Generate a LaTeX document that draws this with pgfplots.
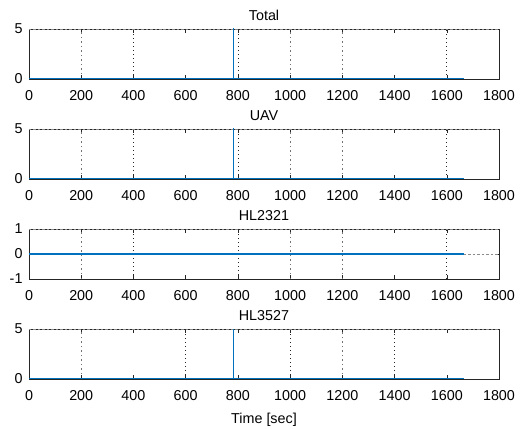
\documentclass[border=0pt]{standalone}
\usepackage{pgfplots}
\pgfplotsset{compat=1.18}
\usepackage{fontspec}
\setmainfont{Liberation Sans}
\definecolor{mblue}{RGB}{0,114,189}
\definecolor{maxis}{RGB}{38,38,38}
\pgfplotsset{
  mpanel/.style={
    scale only axis, width=470bp, height=50bp,
    anchor=south west,
    xmin=0, xmax=1800, xtick={0,200,...,1800},
    tick align=inside, major tick length=4bp,
    axis line style={maxis, line width=0.5pt},
    every tick/.style={maxis, line width=0.5pt},
    tick label style={font=\fontsize{14.4}{16}\selectfont, text=black},
    xticklabel style={yshift=-7.5bp},
    yticklabel style={xshift=-3bp},
    title style={font=\fontsize{14.4}{16}\selectfont, yshift=-1bp},
    /pgf/number format/assume math mode=true,
    /pgf/number format/1000 sep={},
    clip=true,
  },
  hvy/.style={black!85, line width=1pt, dash pattern=on 1.5pt off 2.5pt},
  lgt/.style={black!55, line width=0.6pt, dash pattern=on 1.5pt off 3.5pt on 0.6pt off 3.5pt},
  hl/.style={black!45, line width=0.5pt, dash pattern=on 2.5pt off 2pt},
  dat/.style={draw=mblue, color=mblue, line width=1.6bp},
  spk/.style={draw=mblue, color=mblue, line width=1.5bp},
}
\begin{document}
\begin{tikzpicture}
\path[use as bounding box] (0,0) rectangle (527bp,429bp);
% Panel 1
\begin{axis}[mpanel, at={(29bp,350bp)}, ymin=0, ymax=5, ytick={0,5}, title={Total}]
\addplot[hl] coordinates {(0,5) (1800,5)};
\addplot[hl] coordinates {(0,0) (1800,0)};
\addplot[lgt] coordinates {(200,0) (200,5)};
\addplot[hvy] coordinates {(400,0) (400,5)};
\addplot[hvy] coordinates {(802,0) (802,5)};
\addplot[lgt] coordinates {(1000,0) (1000,5)};
\addplot[lgt] coordinates {(1200,0) (1200,5)};
\addplot[hvy] coordinates {(1600,0) (1600,5)};
\addplot[dat] coordinates {(0,0.04) (1665,0.04)};
\addplot[spk] coordinates {(783,0) (783,6)};
\end{axis}
% Panel 2
\begin{axis}[mpanel, at={(29bp,250bp)}, ymin=0, ymax=5, ytick={0,5}, title={UAV}]
\addplot[hl] coordinates {(0,5) (1800,5)};
\addplot[hl] coordinates {(0,0) (1800,0)};
\addplot[lgt] coordinates {(200,0) (200,5)};
\addplot[hvy] coordinates {(400,0) (400,5)};
\addplot[hvy] coordinates {(802,0) (802,5)};
\addplot[lgt] coordinates {(1000,0) (1000,5)};
\addplot[lgt] coordinates {(1200,0) (1200,5)};
\addplot[hvy] coordinates {(1600,0) (1600,5)};
\addplot[dat] coordinates {(0,0.04) (1665,0.04)};
\addplot[spk] coordinates {(783,0) (783,6)};
\end{axis}
% Panel 3
\begin{axis}[mpanel, at={(29bp,150bp)}, ymin=-1, ymax=1, ytick={-1,0,1}, title={HL2321}]
\addplot[hl] coordinates {(0,1) (1800,1)};
\addplot[lgt] coordinates {(200,-1) (200,1)};
\addplot[hvy] coordinates {(400,-1) (400,1)};
\addplot[hvy] coordinates {(802,-1) (802,1)};
\addplot[lgt] coordinates {(1000,-1) (1000,1)};
\addplot[lgt] coordinates {(1200,-1) (1200,1)};
\addplot[hvy] coordinates {(1600,-1) (1600,1)};
\addplot[dat] coordinates {(0,0) (1665,0)};
\addplot[hl] coordinates {(1665,0) (1800,0)};
\end{axis}
% Panel 4
\begin{axis}[mpanel, at={(29bp,50bp)}, ymin=0, ymax=5, ytick={0,5}, title={HL3527},
  xlabel={Time [sec]}, xlabel style={font=\fontsize{14.4}{16}\selectfont, yshift=-6bp}]
\addplot[hl] coordinates {(0,5) (1800,5)};
\addplot[hl] coordinates {(0,0) (1800,0)};
\addplot[lgt] coordinates {(200,0) (200,5)};
\addplot[hvy] coordinates {(600,0) (600,5)};
\addplot[hvy] coordinates {(1000,0) (1000,5)};
\addplot[lgt] coordinates {(1200,0) (1200,5)};
\addplot[hvy] coordinates {(1400,0) (1400,5)};
\addplot[dat] coordinates {(0,0.04) (1665,0.04)};
\addplot[spk] coordinates {(783,0) (783,6)};
\end{axis}
\end{tikzpicture}
\end{document}
